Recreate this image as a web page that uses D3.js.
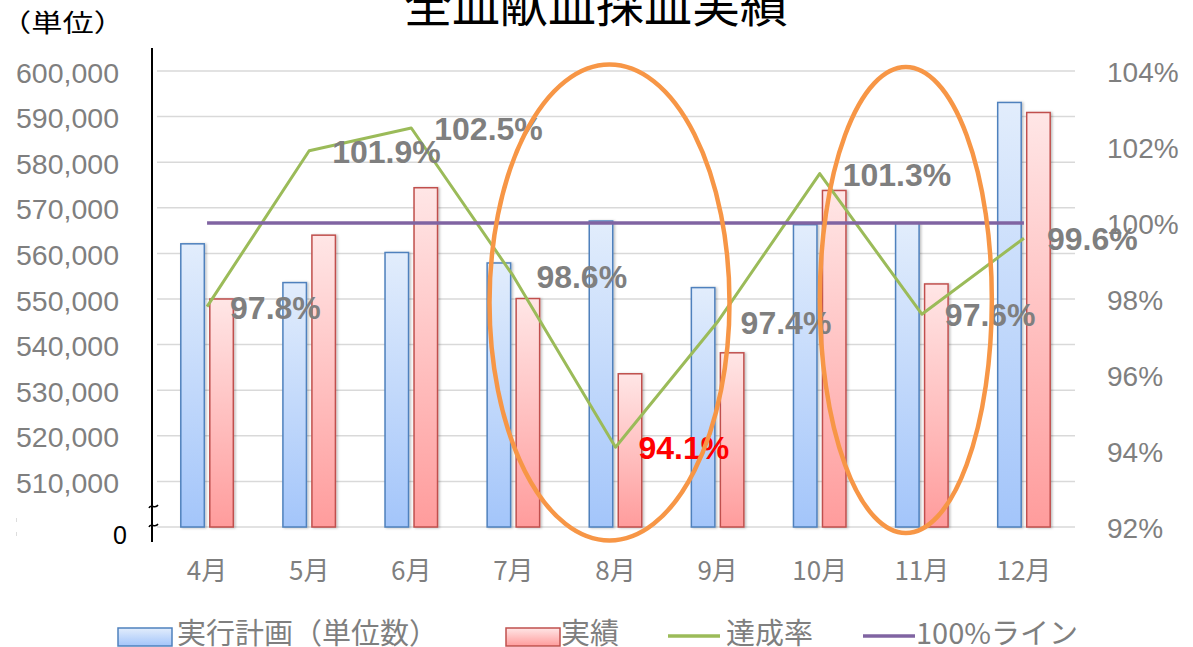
<!DOCTYPE html>
<html>
<head>
<meta charset="utf-8">
<script src="https://cdn.jsdelivr.net/npm/d3@7"></script>
<style>
  body { margin: 0; background: #fff; }
  svg { display: block; }
</style>
</head>
<body>
<svg id="chart" width="1193" height="647"></svg>
<script>
// 月別の全血献血採血（単位数）
const months = ["4月", "5月", "6月", "7月", "8月", "9月", "10月", "11月", "12月"];
const planUnits = [562100, 553600, 560200, 557900, 567100, 552500, 566300, 566700, 593100];
const actualUnits = [550000, 564000, 574400, 550100, 533600, 538200, 573800, 553300, 590900];
const achievementRate = [97.8, 101.9, 102.5, 98.6, 94.1, 97.4, 101.3, 97.6, 99.6];
const targetRate = 100;
const unitTicks = [510000, 520000, 530000, 540000, 550000, 560000, 570000, 580000, 590000, 600000];
const rateTicks = [92, 94, 96, 98, 100, 102, 104];
const circledMonths = ["8月", "11月"];
const legendLabels = ["実行計画（単位数）", "実績", "達成率", "100%ライン"];

const svg = d3.select("#chart");
const numFont = "'Liberation Sans', Arial, sans-serif";
const jpFont = "'Noto Sans CJK JP', 'Noto Sans', sans-serif";
const grey = "#7f7f7f";

const plotTop = 71, plotBottom = 527, plotLeft = 156, plotRight = 1075;

const x = d3.scaleBand().domain(months).range([plotLeft, plotRight]).padding(0);
const y = d3.scaleLinear().domain([500000, 600000]).range([plotBottom, plotTop]);
const yRate = d3.scaleLinear().domain([92, 104]).range([plotBottom, plotTop]);
const cx = m => x(m) + x.bandwidth() / 2;

// gradients and shadow
const defs = svg.append("defs");
function vGrad(id, top, bottom) {
  const g = defs.append("linearGradient").attr("id", id)
    .attr("x1", 0).attr("y1", 0).attr("x2", 0).attr("y2", 1);
  g.append("stop").attr("offset", "0%").attr("stop-color", top);
  g.append("stop").attr("offset", "100%").attr("stop-color", bottom);
}
vGrad("planFill", "#e2edfc", "#a3c5fa");
vGrad("actualFill", "#ffe6e6", "#ff9c9c");
const shadow = defs.append("filter").attr("id", "barShadow")
  .attr("x", "-20%").attr("y", "-5%").attr("width", "150%").attr("height", "115%");
shadow.append("feDropShadow").attr("dx", 1.5).attr("dy", 0.5)
  .attr("stdDeviation", 1).attr("flood-color", "#000").attr("flood-opacity", 0.25);

// title
svg.append("text")
  .attr("x", 596).attr("y", 22)
  .attr("text-anchor", "middle")
  .style("font-family", jpFont).style("font-size", "48px").style("fill", "#000")
  .text("全血献血採血実績");

// unit note
svg.append("g").attr("transform", "translate(0,32) scale(1.25,1)")
  .append("text")
  .attr("x", 0).attr("y", 0)
  .style("font-family", jpFont).style("font-size", "25px").style("fill", "#000")
  .text("（単位）");

// gridlines
svg.append("g").selectAll("line")
  .data([500000].concat(unitTicks))
  .join("line")
  .attr("x1", plotLeft + 1).attr("x2", plotRight)
  .attr("y1", d => y(d)).attr("y2", d => y(d))
  .attr("stroke", "#d9d9d9").attr("stroke-width", 1.5);

// left axis labels
const leftAxis = svg.append("g").attr("transform", "translate(126,0)")
  .call(d3.axisLeft(y).tickValues(unitTicks).tickSize(0).tickPadding(7).tickFormat(d3.format(",")));
leftAxis.select(".domain").remove();
leftAxis.selectAll("text")
  .attr("dy", null).attr("y", 1)
  .attr("dominant-baseline", "central")
  .style("font-family", numFont).style("font-size", "28.5px").style("fill", grey);

// right axis labels
const rightAxis = svg.append("g").attr("transform", "translate(1100,0)")
  .call(d3.axisRight(yRate).tickValues(rateTicks).tickSize(0).tickPadding(7).tickFormat(d => d + "%"));
rightAxis.select(".domain").remove();
rightAxis.selectAll("text")
  .attr("dy", null).attr("y", 1)
  .attr("dominant-baseline", "central")
  .style("font-family", numFont).style("font-size", "28px").style("fill", grey);

// category axis
const bottomAxis = svg.append("g").attr("transform", `translate(0,${plotBottom})`)
  .call(d3.axisBottom(x).tickSize(0));
bottomAxis.select(".domain").remove();
bottomAxis.selectAll("text")
  .attr("dy", null).attr("y", 53)
  .style("font-family", jpFont).style("font-size", "26px").style("fill", grey);

// bars
const barW = 23.5, barOff = 14.5;
const bars = svg.append("g").attr("filter", "url(#barShadow)");
bars.selectAll("rect.plan")
  .data(months.map((m, i) => ({ m, v: planUnits[i] })))
  .join("rect").attr("class", "plan")
  .attr("x", d => cx(d.m) - barOff - barW / 2)
  .attr("y", d => y(d.v))
  .attr("width", barW)
  .attr("height", d => y(500000) - y(d.v))
  .attr("fill", "url(#planFill)")
  .attr("stroke", "#4f81bd").attr("stroke-width", 1.5);
bars.selectAll("rect.actual")
  .data(months.map((m, i) => ({ m, v: actualUnits[i] })))
  .join("rect").attr("class", "actual")
  .attr("x", d => cx(d.m) + barOff - barW / 2)
  .attr("y", d => y(d.v))
  .attr("width", barW)
  .attr("height", d => y(500000) - y(d.v))
  .attr("fill", "url(#actualFill)")
  .attr("stroke", "#c0504d").attr("stroke-width", 1.5);

// achievement rate line
const ratePts = months.map((m, i) => ({ m, v: achievementRate[i] }));
svg.append("path")
  .datum(ratePts)
  .attr("fill", "none").attr("stroke", "#9bbb59").attr("stroke-width", 3)
  .attr("stroke-linejoin", "round")
  .attr("d", d3.line().x(d => cx(d.m)).y(d => yRate(d.v)));

// 100% line
svg.append("path")
  .datum(months.map(m => ({ m, v: targetRate })))
  .attr("fill", "none").attr("stroke", "#8064a2").attr("stroke-width", 3.5)
  .attr("d", d3.line().x(d => cx(d.m)).y(d => yRate(d.v)));

// rate labels
svg.append("g").selectAll("text")
  .data(ratePts)
  .join("text")
  .attr("x", d => cx(d.m) + 23)
  .attr("y", d => yRate(d.v) + 1)
  .attr("dominant-baseline", "central")
  .style("font-family", numFont).style("font-size", "32px").style("font-weight", "bold")
  .style("fill", d => d.v < 95 ? "#ff0000" : grey)
  .text(d => d3.format(".1f")(d.v) + "%");

// left axis line with break marks
svg.append("line")
  .attr("x1", 152).attr("x2", 152).attr("y1", 48).attr("y2", 542)
  .attr("stroke", "#000").attr("stroke-width", 2);
[506, 525].forEach(by => {
  svg.append("path")
    .attr("d", `M149,${by + 2} C151,${by - 3} 155,${by + 4} 158,${by - 1}`)
    .attr("fill", "none").attr("stroke", "#000").attr("stroke-width", 1.5);
});
svg.append("text")
  .attr("x", 120).attr("y", 535)
  .attr("text-anchor", "middle").attr("dominant-baseline", "central")
  .style("font-family", numFont).style("font-size", "25px").style("fill", "#000")
  .text("0");
svg.append("line")
  .attr("x1", 16.5).attr("x2", 16.5).attr("y1", 518).attr("y2", 537)
  .attr("stroke", "#dddddd").attr("stroke-width", 1).attr("stroke-dasharray", "4,10");

// highlight ellipses
const ellipseShift = { "8月": -6, "11月": -16 };
const ellipseSize = { "8月": [120, 238, 302.5], "11月": [86, 233, 300] };
svg.append("g").selectAll("ellipse")
  .data(circledMonths)
  .join("ellipse")
  .attr("cx", m => cx(m) + ellipseShift[m])
  .attr("cy", m => ellipseSize[m][2])
  .attr("rx", m => ellipseSize[m][0])
  .attr("ry", m => ellipseSize[m][1])
  .attr("fill", "none").attr("stroke", "#f79646").attr("stroke-width", 4.5);

// legend
const legend = svg.append("g");
const legendY = 636;
const legendItems = [
  { label: legendLabels[0], type: "box", fill: "url(#planFill)", stroke: "#4f81bd", x: 118, tx: 177 },
  { label: legendLabels[1], type: "box", fill: "url(#actualFill)", stroke: "#c0504d", x: 506, tx: 561 },
  { label: legendLabels[2], type: "line", stroke: "#9bbb59", x: 668, tx: 726 },
  { label: legendLabels[3], type: "line", stroke: "#8064a2", x: 863, tx: 916 }
];
legendItems.forEach(it => {
  if (it.type === "box") {
    legend.append("rect")
      .attr("x", it.x).attr("y", legendY - 8).attr("width", 54).attr("height", 18)
      .attr("fill", it.fill).attr("stroke", it.stroke).attr("stroke-width", 1.5);
  } else {
    legend.append("line")
      .attr("x1", it.x).attr("x2", it.x + 52)
      .attr("y1", legendY).attr("y2", legendY)
      .attr("stroke", it.stroke).attr("stroke-width", 3.5);
  }
  legend.append("text")
    .attr("x", it.tx).attr("y", 644)
    .style("font-family", jpFont).style("font-size", "29px").style("fill", grey)
    .text(it.label);
});
</script>
</body>
</html>
